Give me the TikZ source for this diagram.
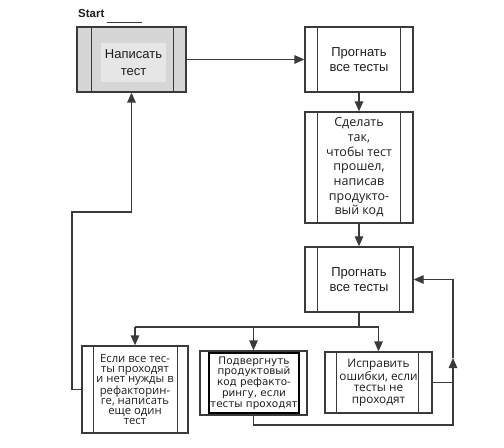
\documentclass[tikz,border=0pt]{standalone}
\usepackage{fontspec}
\setmainfont{Liberation Sans}
\newfontfamily\humfont{Open Sans}
\newfontfamily\verafont{DejaVu Sans}
\usetikzlibrary{arrows.meta}

\definecolor{linegray}{HTML}{3A3A3A}
\definecolor{boxgray}{HTML}{D6D6D6}
\definecolor{hilite}{HTML}{E6E6E6}
\definecolor{inkc}{HTML}{1E1E1E}

\tikzset{
  conn/.style={draw=linegray, line width=1.3bp},
  arr/.style={conn, -{Triangle[length=10bp,width=8.5bp]}},
  procbox/.style={draw=linegray, line width=1.3bp, rectangle, inner sep=0pt,
                  text=inkc, align=center},
  bigtxt/.style={font=\fontsize{13bp}{14.5bp}\selectfont},
  midtxt/.style={font=\humfont\fontsize{12.5bp}{14.7bp}\selectfont},
  smalltxt/.style={font=\humfont\fontsize{11.3bp}{9.9bp}\selectfont},
  fixtxt/.style={font=\humfont\fontsize{11.8bp}{11.3bp}\selectfont},
}

% the two inner side bars of a predefined-process box
\newcommand\sidebars[3]{%
  \draw[conn] ([xshift=#2]#1.north west) -- ([xshift=#2]#1.south west);
  \draw[conn] ([xshift=-#3]#1.north east) -- ([xshift=-#3]#1.south east);}

\begin{document}
\begin{tikzpicture}[x=1bp, y=-1bp]
\useasboundingbox (0,0) rectangle (504,448);

% start label
\node[font=\bfseries\fontsize{11.5bp}{13bp}\selectfont, text=inkc, anchor=west,
      inner sep=0pt] (start) at (78,14) {Start};
\coordinate (startline) at (142,22);
\draw[linegray, line width=0.9bp] (start.east |- startline) ++(2bp,0) -- (startline);

% boxes
\node[procbox, fill=boxgray, minimum width=109bp, minimum height=65bp] (b1) at (131.5,59.5) {};
\sidebars{b1}{15bp}{13bp}
\node[fill=hilite, minimum width=65bp, minimum height=39bp, inner sep=0pt,
      align=center, text=inkc, font=\fontsize{13bp}{17bp}\selectfont] (t1) at (133.5,62.5)
      {Написать\\тест};

\node[procbox, bigtxt, minimum width=108bp, minimum height=65bp] (b2) at (359,59.5)
      {Прогнать\\все тесты};
\sidebars{b2}{13bp}{13bp}

\node[procbox, midtxt, minimum width=108bp, minimum height=111bp] (b3) at (359,167.5)
      {Сделать\\так,\\чтобы тест\\прошел,\\написав\\продукто-\\вый код};
\sidebars{b3}{13bp}{13bp}

\node[procbox, bigtxt, minimum width=108bp, minimum height=65bp] (b4) at (359,279.5)
      {Прогнать\\все тесты};
\sidebars{b4}{13bp}{14bp}

\node[procbox, smalltxt, minimum width=106bp, minimum height=87bp] (b5) at (135,389.5)
      {Если все тес-\\ты проходят\\и нет нужды в\\рефакторин-\\ге, написать\\еще один\\тест};
\sidebars{b5}{12bp}{11bp}

\node[procbox, minimum width=107bp, minimum height=64bp] (b6) at (253.5,383) {};
\node[draw=black, line width=2bp, minimum width=90bp, minimum height=60bp,
      inner sep=0pt, align=center, text=inkc,
      font=\verafont\fontsize{10.4bp}{10.8bp}\selectfont] (t6) at (254,383)
      {Подвергнуть\\продуктовый\\код рефакто-\\рингу, если\\тесты проходят};

\node[procbox, fixtxt, minimum width=107bp, minimum height=61bp] (b7) at (378.5,382.5)
      {Исправить\\ошибки, если\\тесты не\\проходят};
\sidebars{b7}{12bp}{14bp}

% main flow
\draw[arr] (b1.east) -- (b2.west);
\draw[arr] (b2.south) -- (b3.north);
\draw[arr] (b3.south) -- (b4.north);

% three-way branch
\coordinate (split) at (359,327);
\coordinate (brL) at (b5.north |- split);
\coordinate (brM) at (b6.north |- split);
\coordinate (brR) at (b7.north |- split);
\draw[conn] (b4.south) -- (split);
\draw[conn] (brL) -- (brR);
\draw[arr] (brL) -- (b5.north);
\draw[arr] (brM) -- (b6.north);
\draw[arr] (brR) -- (b7.north);

% loop back to the test run
\coordinate (rb) at (453,425);
\coordinate (rm) at (453,358);
\draw[arr] (b6.south) |- (rb) -- (rm);
\draw[arr] (rm) -- (rb |- b4.east) -- (b4.east);
\draw[conn] (b7.east) -- (b7.east -| rb);

% loop back to writing a test
\coordinate (lb) at (72,212);
\draw[arr] (b5.west) -| (lb) -| (b1.south);
\end{tikzpicture}
\end{document}
